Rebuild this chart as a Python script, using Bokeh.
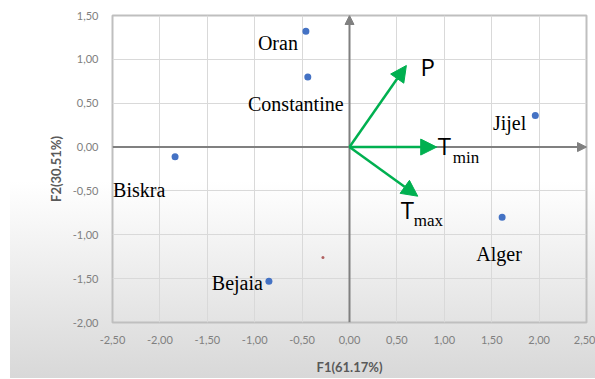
from bokeh.plotting import figure
from bokeh.models import (Range1d, FixedTicker, CustomJSTickFormatter, Arrow, NormalHead,
                          Label, ColumnDataSource)
from bokeh.embed import file_html
from bokeh.resources import INLINE

# ---- data ----
cities = ["Oran", "Constantine", "Jijel", "Biskra", "Alger", "Bejaia"]
city_f1 = [-0.46, -0.44, 1.96, -1.84, 1.61, -0.85]
city_f2 = [1.32, 0.80, 0.36, -0.11, -0.80, -1.53]

var_names = ["P", "T", "T"]
var_subs = ["", "min", "max"]
var_f1 = [0.60, 0.92, 0.72]
var_f2 = [0.93, 0.00, -0.56]

extra_f1 = [-0.28]
extra_f2 = [-1.26]

x_ticks = [-2.5, -2.0, -1.5, -1.0, -0.5, 0.0, 0.5, 1.0, 1.5, 2.0, 2.5]
y_ticks = [-2.0, -1.5, -1.0, -0.5, 0.0, 0.5, 1.0, 1.5]
x_title = "F1(61.17%)"
y_title = "F2(30.51%)"

# ---- styling ----
city_style = {
    "Oran": dict(x_offset=-8, y_offset=-12, text_align="right"),
    "Constantine": dict(x_offset=-12, y_offset=-27, text_align="center"),
    "Jijel": dict(x_offset=-9, y_offset=-8, text_align="right"),
    "Biskra": dict(x_offset=-62, y_offset=-33, text_align="left"),
    "Alger": dict(x_offset=-3, y_offset=-37, text_align="center"),
    "Bejaia": dict(x_offset=-6, y_offset=-2, text_align="right"),
}
var_style = [
    dict(main=(14, -1), sub=(0, 0)),
    dict(main=(1, 2), sub=(16, -10)),
    dict(main=(-17, -13), sub=(-4, -24)),
]

GREEN = "#00b050"
AXIS_GRAY = "#808080"

p = figure(frame_width=474, frame_height=307, output_backend="svg", toolbar_location=None,
           x_range=Range1d(x_ticks[0], x_ticks[-1]), y_range=Range1d(y_ticks[0], y_ticks[-1]),
           min_border_left=112, min_border_right=9, min_border_top=15, min_border_bottom=56)
p.background_fill_color = None
p.border_fill_color = None
p.styles = {"background": "linear-gradient(to right, #ffffff 10px, rgba(255,255,255,0) 10px), "
                          "linear-gradient(to bottom, #ffffff 0%, #ffffff 48%, #d8d8d8 100%)"}
p.outline_line_color = "#bfbfbf"
p.outline_line_width = 2

fmt = CustomJSTickFormatter(code="return tick.toFixed(2).replace('.', ',');")
p.xaxis.ticker = FixedTicker(ticks=x_ticks)
p.yaxis.ticker = FixedTicker(ticks=y_ticks)
for ax in (p.xaxis, p.yaxis):
    ax.formatter = fmt
    ax.axis_line_color = None
    ax.major_tick_line_color = None
    ax.minor_tick_line_color = None
    ax.major_label_text_font = "Lato"
    ax.major_label_text_font_size = "11px"
    ax.major_label_text_color = "#808080"
    ax.axis_label_text_font = "Lato"
    ax.axis_label_text_font_size = "13px"
    ax.axis_label_text_font_style = "bold"
    ax.axis_label_text_color = "#595959"
p.xaxis.axis_label = x_title
p.yaxis.axis_label = y_title
p.xaxis.major_label_standoff = 7
p.xaxis.axis_label_standoff = 12
p.yaxis.major_label_standoff = 8
p.yaxis.axis_label_standoff = 6

p.xgrid.ticker = FixedTicker(ticks=x_ticks)
p.ygrid.ticker = FixedTicker(ticks=y_ticks)
p.grid.grid_line_color = "#d9d9d9"
p.grid.grid_line_width = 1

# center axes with arrowheads
p.add_layout(Arrow(x_start=x_ticks[0], y_start=0, x_end=x_ticks[-1], y_end=0,
                   line_color=AXIS_GRAY, line_width=2,
                   end=NormalHead(size=9, fill_color=AXIS_GRAY, line_color=AXIS_GRAY)))
p.add_layout(Arrow(x_start=0, y_start=y_ticks[0], x_end=0, y_end=y_ticks[-1],
                   line_color=AXIS_GRAY, line_width=2,
                   end=NormalHead(size=9, fill_color=AXIS_GRAY, line_color=AXIS_GRAY)))

# points
p.scatter(city_f1, city_f2, size=7, color="#4472c4", line_color=None)
p.scatter(extra_f1, extra_f2, size=3, color="#b06060", line_color=None)

for name, x, y in zip(cities, city_f1, city_f2):
    st = city_style[name]
    p.add_layout(Label(x=x, y=y, text=name, text_font="Liberation Serif",
                       text_font_size="20px", text_color="#000000",
                       text_baseline="alphabetic", **st))

# variable arrows
vsrc = ColumnDataSource(dict(x0=[0] * len(var_f1), y0=[0] * len(var_f1), x1=var_f1, y1=var_f2))
p.add_layout(Arrow(source=vsrc, x_start="x0", y_start="y0", x_end="x1", y_end="y1",
                   line_color=GREEN, line_width=2.5,
                   end=NormalHead(size=16, fill_color=GREEN, line_color=GREEN)))

for name, sub, x, y, st in zip(var_names, var_subs, var_f1, var_f2, var_style):
    p.add_layout(Label(x=x, y=y, text=name, text_font="Open Sans", text_font_size="24px",
                       text_color="#000000", text_baseline="alphabetic",
                       x_offset=st["main"][0], y_offset=st["main"][1]))
    if sub:
        p.add_layout(Label(x=x, y=y, text=sub, text_font="Liberation Serif",
                           text_font_size="17px", text_color="#000000",
                           text_baseline="alphabetic",
                           x_offset=st["sub"][0], y_offset=st["sub"][1]))

open("out.html", "w").write(file_html(p, INLINE))
